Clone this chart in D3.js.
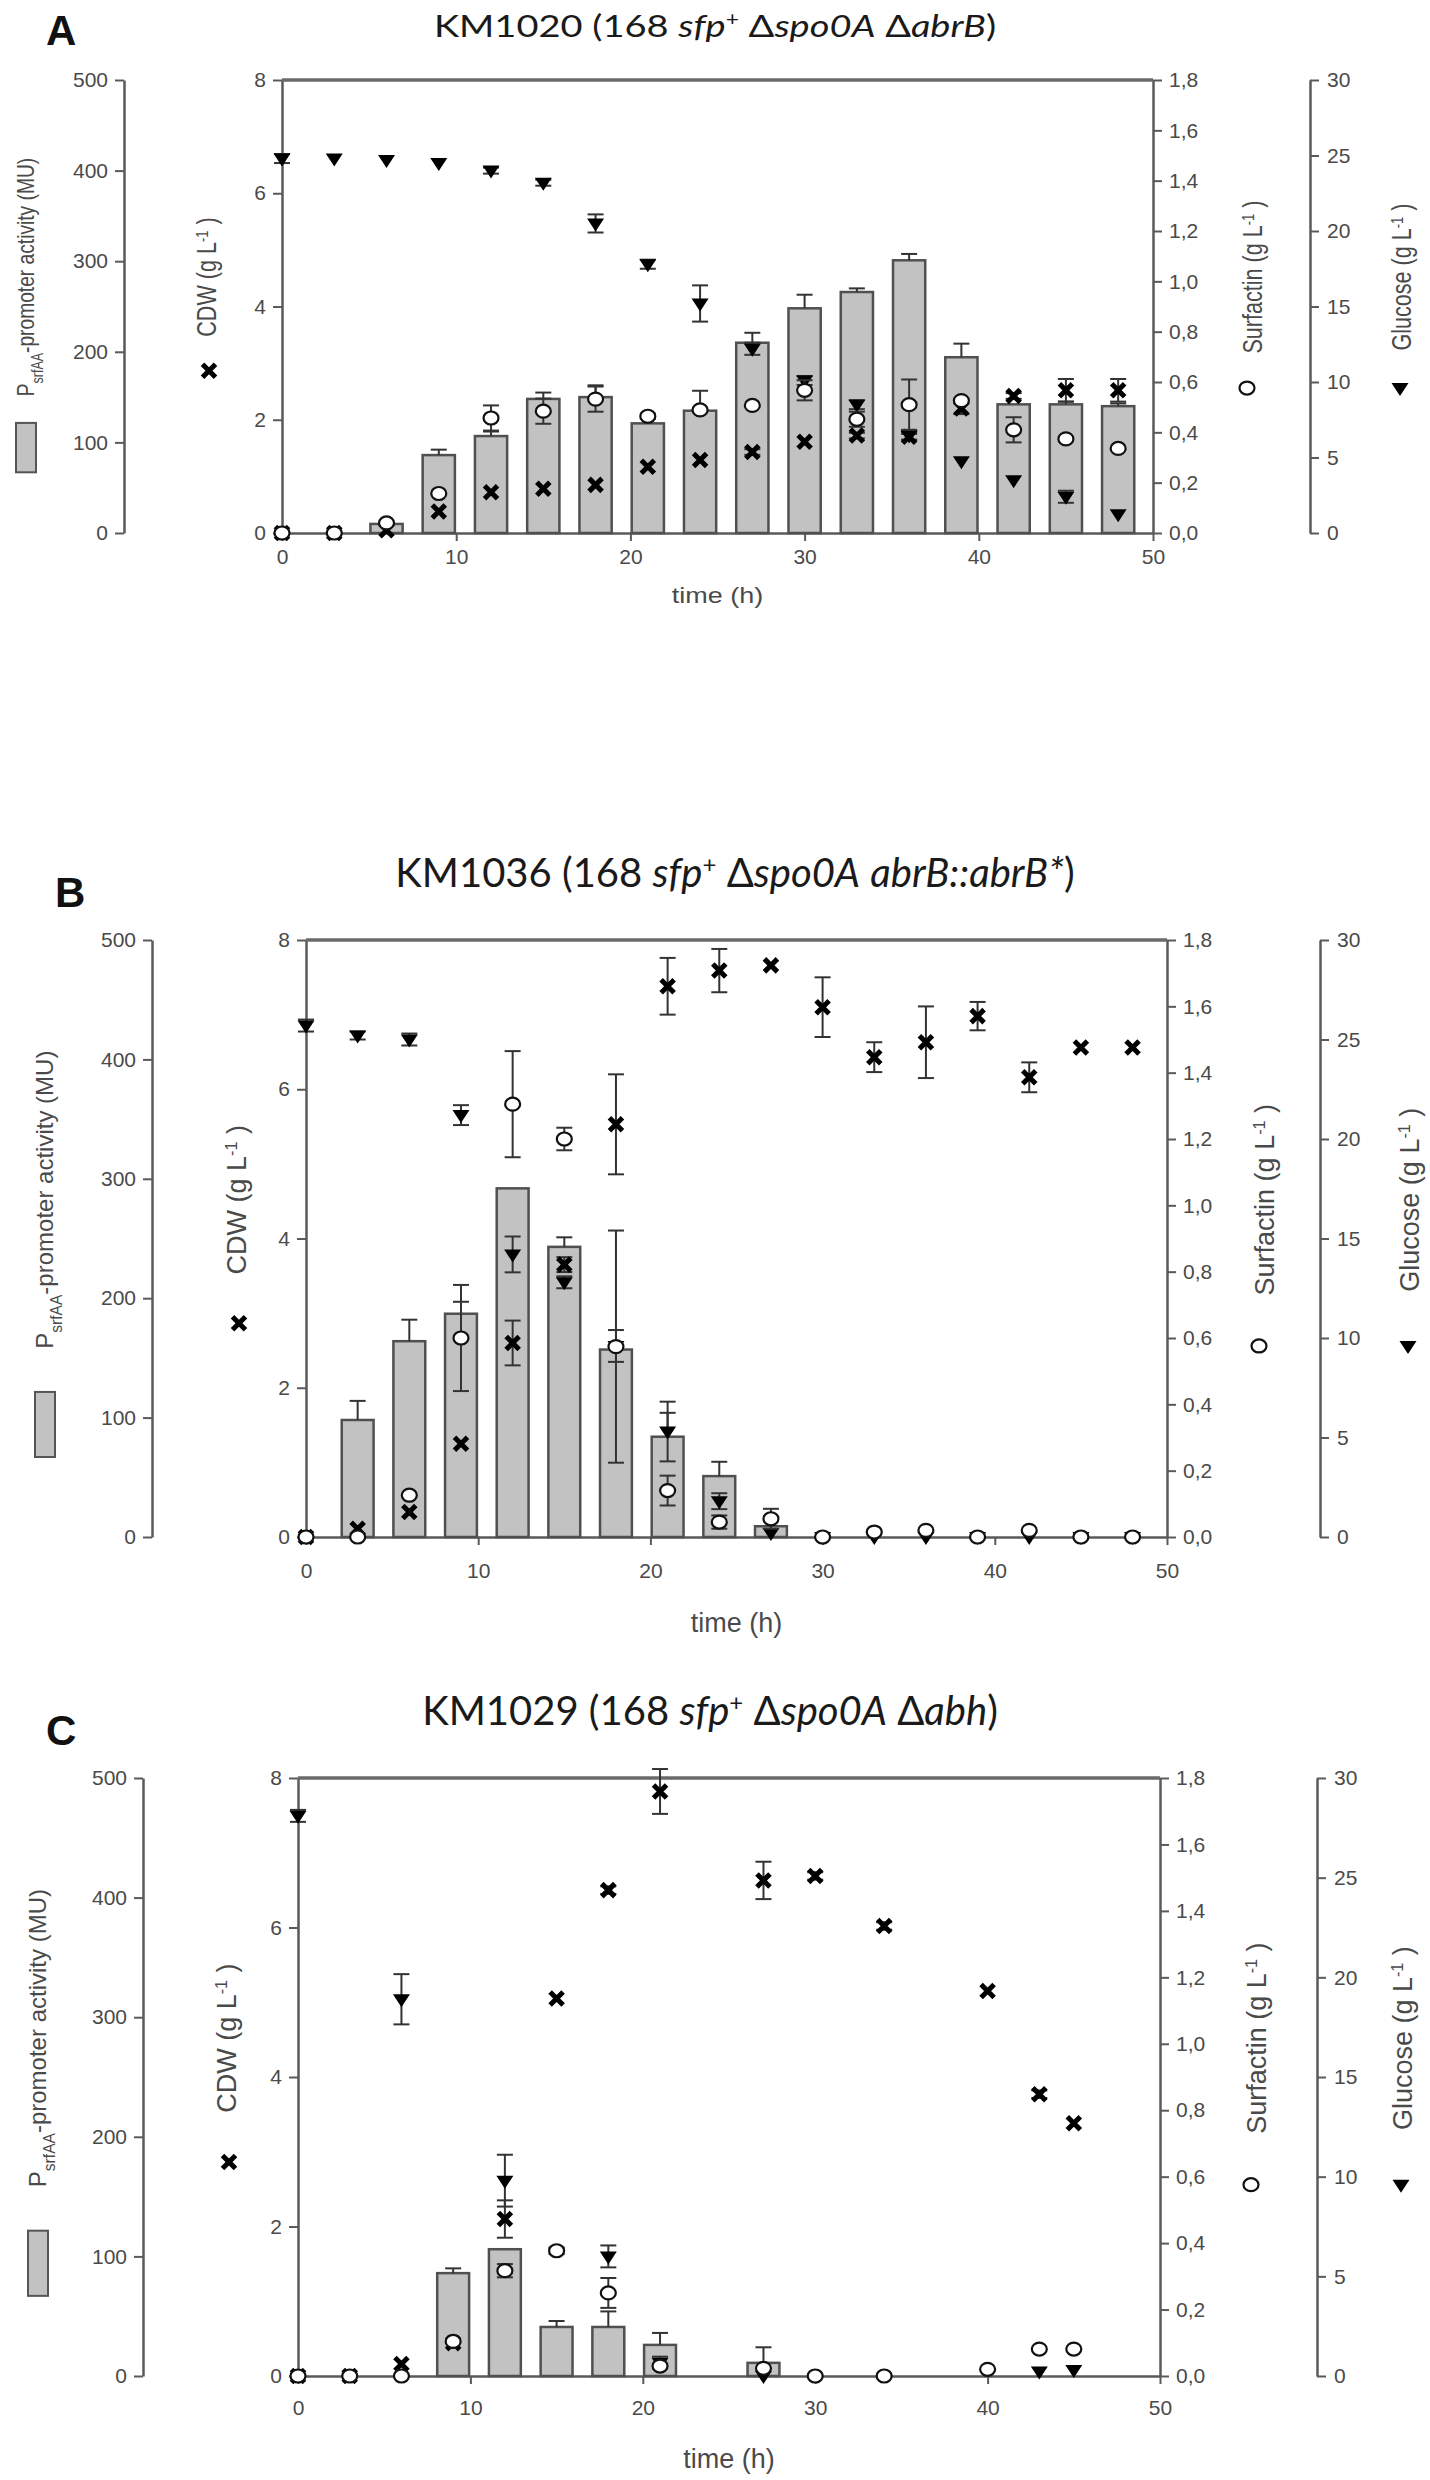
<!DOCTYPE html>
<html><head><meta charset="utf-8">
<script src="https://cdn.jsdelivr.net/npm/d3@7"></script>
<style>
body{margin:0;background:#fff}
</style>
</head><body>
<svg id="chart" width="1430" height="2480" font-family="'Liberation Sans',Arial,sans-serif"></svg>
<script>
// ---------------- DATA ----------------
// Panel A: KM1020
const timeA = [0,3,6,9,12,15,18,21,24,27,30,33,36,39,42,45,48];
const muA = [0,0,10,86,107,148,150,121,135,210,248,266,301,194,142,142,140];
const muErrA = [0,0,0,6,5,7,13,8,22,11,15,4,7,15,0,3,3];
const cdwA = [0,0,0.05,0.38,0.72,0.78,0.85,1.17,1.29,1.43,1.61,1.72,1.70,2.2,2.42,2.52,2.52];
const cdwErrA = [0,0,0,0,0,0,0,0,0,0.05,0,0.05,0.05,0.1,0.05,0.2,0.2];
const surfA = [0,0,0.04,0.157,0.457,0.484,0.532,0.464,0.489,0.507,0.567,0.452,0.51,0.526,0.41,0.374,0.336];
const surfErrA = [0,0,0,0,0.05,0.05,0.05,0.01,0,0,0.04,0.03,0.1,0,0.05,0,0];
const glcA = [24.8,24.8,24.7,24.5,24.0,23.2,20.5,17.8,15.2,12.2,10.1,8.5,6.45,4.75,3.5,2.4,1.25];
const glcErrA = [0.3,0,0,0,0.2,0.2,0.6,0.3,1.2,0.4,0.3,0.3,0.3,0,0,0.4,0];

// Panel B: KM1036
const timeB = [0,3,6,9,12,15,18,21,24,27,30,33,36,39,42,45,48];
const muB = [0,98,164,187,292,243,157,84,51,9,0,0,0,0,0,0,0];
const muErrB = [0,16,18,10,0,8,0,20,12,0,0,0,0,0,0,0,0];
const cdwB = [0,0.11,0.335,1.25,2.6,3.65,5.53,7.38,7.59,7.66,7.1,6.43,6.63,6.98,6.16,6.56,6.56];
const cdwErrB = [0,0,0,0,0.3,0.1,0.67,0.38,0.29,0,0.4,0.2,0.48,0.19,0.2,0,0];
const surfB = [0,0,0.126,0.6,1.305,1.2,0.574,0.14,0.045,0.055,0,0.015,0.02,0,0.02,0,0];
const surfErrB = [0,0,0,0.16,0.16,0.034,0.35,0.045,0.02,0.03,0,0,0,0,0,0,0];
const glcB = [25.7,25.2,25.0,21.2,14.2,12.8,9.6,5.3,1.8,0.2,0,0,0,0,0,0,0];
const glcErrB = [0.3,0.2,0.3,0.5,0.9,0.3,0.8,1.5,0.4,0,0,0,0,0,0,0,0];

// Panel C: KM1029
const timeC = [0,3,6,9,12,15,18,21,27,30,34,40,43,45];
const muC = [0,0,0,86,106,41,41,26,11,0,0,0,0,0];
const muErrC = [0,0,0,4,0,5,13,10,13,0,0,0,0,0];
const cdwC = [0,0,0.16,0.44,2.1,5.05,6.5,7.82,6.63,6.69,6.02,5.15,3.77,3.38];
const cdwErrC = [0,0,0,0,0.25,0,0.05,0.3,0.25,0.05,0.05,0,0.05,0];
const surfC = [0,0,0,0.104,0.317,0.377,0.25,0.03,0.023,0,0,0.02,0.081,0.081];
const surfErrC = [0,0,0,0,0.02,0.01,0.045,0,0,0,0,0,0,0];
const glcC = [28.1,null,18.9,null,9.8,null,6.0,0.67,0,null,null,null,0.22,0.3];
const glcErrC = [0.3,0,1.26,0,1.3,0,0.55,0.3,0,0,0,0,0,0];

// Tick labels
const muTicks = [0,100,200,300,400,500];
const cdwTicks = [0,2,4,6,8];
const surfTicks = [0,0.2,0.4,0.6,0.8,1.0,1.2,1.4,1.6,1.8];
const glcTicks = [0,5,10,15,20,25,30];
const timeTicks = [0,10,20,30,40,50];

// Titles / labels
const titleA = [["KM1020 (168 "],["sfp","i"],["+","sup"],[" Δ"],["spo0A","i"],[" Δ"],["abrB","i"],[")"]];
const titleB = [["KM1036 (168 "],["sfp","i"],["+","sup"],[" Δ"],["spo0A","i"],[" "],["abrB::abrB*","i"],[")"]];
const titleC = [["KM1029 (168 "],["sfp","i"],["+","sup"],[" Δ"],["spo0A","i"],[" Δ"],["abh","i"],[")"]];

// ---------------- DRAWING ----------------
const svg = d3.select("#chart");
const AX = "#5a5a5a", TXT = "#4a4a4a";

function richText(sel, parts, size){
  parts.forEach(p=>{
    const t = sel.append("tspan").text(p[0]);
    if(p[1]==="i") t.attr("font-style","italic");
    if(p[1]==="sup") t.attr("baseline-shift","super").attr("font-size", size*0.6);
    if(p[1]==="sub") t.attr("baseline-shift","sub").attr("font-size", size*0.65);
  });
}

function panel(c){
  const g = svg.append("g");
  const x = d3.scaleLinear([0,50],[c.x0,c.x1]);
  const yMU = d3.scaleLinear([0,500],[c.yb,c.yt]);
  const yCDW = d3.scaleLinear([0,8],[c.yb,c.yt]);
  const ySurf = d3.scaleLinear([0,1.8],[c.yb,c.yt]);
  const yGlc = d3.scaleLinear([0,30],[c.yb,c.yt]);
  const H = c.yb - c.yt;
  const fy = f => c.yt + f*H;

  g.append("text").attr("x",c.letterX).attr("y",c.letterY).attr("font-weight","bold")
    .attr("font-size",42).attr("fill","#111").text(c.letter);
  const tt = g.append("g").attr("transform",`translate(${c.titleX},${c.titleY}) scale(1,${c.sy})`)
    .append("text").attr("text-anchor","middle").style("font-family","Lato, 'Open Sans', sans-serif")
    .attr("font-size",c.titleSize).attr("fill","#1a1a1a");
  richText(tt, c.title, c.titleSize);

  function styleAxis(sel){
    sel.select(".domain").attr("stroke",AX).attr("stroke-width",2.5);
    sel.selectAll(".tick line").attr("stroke",AX).attr("stroke-width",2);
    sel.selectAll(".tick text").attr("fill",TXT).attr("font-size",21);
  }
  const comma = d => d3.format(".1f")(d).replace(".",",");

  g.append("g").attr("transform",`translate(${c.xMU},0)`)
    .call(d3.axisLeft(yMU).tickValues(muTicks).tickSize(9).tickSizeOuter(0).tickPadding(7)).call(styleAxis);
  g.append("g").attr("transform",`translate(${c.x0},0)`)
    .call(d3.axisLeft(yCDW).tickValues(cdwTicks).tickSize(9).tickSizeOuter(0).tickPadding(7)).call(styleAxis);
  g.append("g").attr("transform",`translate(${c.x1},0)`)
    .call(d3.axisRight(ySurf).tickValues(surfTicks).tickFormat(comma).tickSize(9).tickSizeOuter(0).tickPadding(7)).call(styleAxis);
  g.append("g").attr("transform",`translate(${c.xG},0)`)
    .call(d3.axisRight(yGlc).tickValues(glcTicks).tickSize(9).tickSizeOuter(0).tickPadding(8)).call(styleAxis);
  g.append("g").attr("transform",`translate(0,${c.yb})`)
    .call(d3.axisBottom(x).tickValues(timeTicks).tickSize(8).tickSizeOuter(0).tickPadding(c.xPad)).call(styleAxis);
  g.append("line").attr("x1",c.x0).attr("x2",c.x1).attr("y1",c.yt).attr("y2",c.yt)
    .attr("stroke","#6a6a6a").attr("stroke-width",3.5);

  g.append("g").attr("transform",`translate(${(c.x0+c.x1)/2},${c.timeY}) scale(1,${c.sy})`)
    .append("text").attr("text-anchor","middle").attr("font-size",27).attr("fill",TXT).text("time (h)");

  function vlabel(xp, parts, size){
    const t = g.append("g").attr("transform",`translate(${xp},${fy(0.435)}) scale(1,${c.sy}) rotate(-90)`)
      .append("text").attr("text-anchor","middle").attr("dy","0.35em").attr("font-size",size).attr("fill",TXT);
    richText(t, parts, size);
  }
  vlabel(c.muLabX, [["P"],["srfAA","sub"],["-promoter activity (MU)"]], 24);
  vlabel(c.cdwLabX, [["CDW (g L"],["-1","sup"],[" )"]], 27);
  vlabel(c.surfLabX, [["Surfactin (g L"],["-1","sup"],[" )"]], 27);
  vlabel(c.glcLabX, [["Glucose (g L"],["-1","sup"],[" )"]], 27);

  g.append("rect").attr("x",c.muLabX-10).attr("y",fy(0.757)).attr("width",20).attr("height",fy(0.866)-fy(0.757))
    .attr("fill","#c2c2c2").attr("stroke","#555").attr("stroke-width",2);
  drawCross(g, c.cdwLabX+2, fy(0.642));
  drawCircle(g, c.surfLabX-6, fy(0.68));
  drawTri(g, c.glcLabX-2, fy(0.68));

  const bw = (x(1.85)-x(0));
  const T = c.time;
  T.forEach((t,i)=>{
    const v = c.mu[i];
    if(v>0){
      g.append("rect").attr("x",x(t)-bw/2).attr("y",yMU(v)).attr("width",bw).attr("height",yMU(0)-yMU(v))
        .attr("fill","#c2c2c2").attr("stroke","#505050").attr("stroke-width",2.5);
      if(c.muErr[i]>0) errBar(g, x(t), yMU(v), yMU(v+c.muErr[i]), true);
    }
  });
  T.forEach((t,i)=>{ const v=c.glc[i]; if(v==null) return;
    if(c.glcErr[i]>0) errBar(g, x(t), yGlc(v-c.glcErr[i]), yGlc(v+c.glcErr[i]));
    drawTri(g, x(t), yGlc(v)); });
  T.forEach((t,i)=>{ const v=c.cdw[i]; if(v==null) return;
    if(c.cdwErr[i]>0) errBar(g, x(t), yCDW(v-c.cdwErr[i]), yCDW(v+c.cdwErr[i]));
    drawCross(g, x(t), yCDW(v)); });
  T.forEach((t,i)=>{ const v=c.surf[i]; if(v==null) return;
    if(c.surfErr[i]>0) errBar(g, x(t), ySurf(v-c.surfErr[i]), ySurf(v+c.surfErr[i]));
    drawCircle(g, x(t), ySurf(v)); });
}

function errBar(g, cx, y1, y2, oneSided){
  g.append("line").attr("x1",cx).attr("x2",cx).attr("y1",y1).attr("y2",y2).attr("stroke","#333").attr("stroke-width",2);
  g.append("line").attr("x1",cx-8).attr("x2",cx+8).attr("y1",y2).attr("y2",y2).attr("stroke","#333").attr("stroke-width",2);
  if(!oneSided) g.append("line").attr("x1",cx-8).attr("x2",cx+8).attr("y1",y1).attr("y2",y1).attr("stroke","#333").attr("stroke-width",2);
}
function drawCross(g, cx, cy){
  const s=6.5;
  g.append("path").attr("d",`M${cx-s},${cy-s}L${cx+s},${cy+s}M${cx-s},${cy+s}L${cx+s},${cy-s}`)
    .attr("stroke","#000").attr("stroke-width",5).attr("fill","none");
}
function drawCircle(g, cx, cy){
  g.append("ellipse").attr("cx",cx).attr("cy",cy).attr("rx",7.5).attr("ry",6.5)
    .attr("fill","#fff").attr("stroke","#111").attr("stroke-width",2.2);
}
function drawTri(g, cx, cy){
  g.append("path").attr("d",`M${cx-8.5},${cy-5}L${cx+8.5},${cy-5}L${cx},${cy+8}Z`).attr("fill","#000");
}

panel({letter:"A", letterX:46, letterY:45, title:titleA, titleX:715, titleY:37, titleSize:38, sy:0.8,
  time:timeA, mu:muA, muErr:muErrA, cdw:cdwA, cdwErr:cdwErrA, surf:surfA, surfErr:surfErrA, glc:glcA, glcErr:glcErrA,
  x0:282, x1:1153, yt:80, yb:533, xMU:124, xG:1310, xPad:8, timeY:603,
  muLabX:26, cdwLabX:207, surfLabX:1253, glcLabX:1402});
panel({letter:"B", letterX:55, letterY:907, title:titleB, titleX:735, titleY:887, titleSize:40, sy:1,
  time:timeB, mu:muB, muErr:muErrB, cdw:cdwB, cdwErr:cdwErrB, surf:surfB, surfErr:surfErrB, glc:glcB, glcErr:glcErrB,
  x0:306, x1:1167, yt:940, yb:1537, xMU:152, xG:1320, xPad:18, timeY:1632,
  muLabX:45, cdwLabX:237, surfLabX:1265, glcLabX:1410});
panel({letter:"C", letterX:46, letterY:1745, title:titleC, titleX:710, titleY:1725, titleSize:40, sy:1,
  time:timeC, mu:muC, muErr:muErrC, cdw:cdwC, cdwErr:cdwErrC, surf:surfC, surfErr:surfErrC, glc:glcC, glcErr:glcErrC,
  x0:298, x1:1160, yt:1778, yb:2376, xMU:143, xG:1317, xPad:16, timeY:2468,
  muLabX:38, cdwLabX:227, surfLabX:1257, glcLabX:1403});
</script>
</body></html>
